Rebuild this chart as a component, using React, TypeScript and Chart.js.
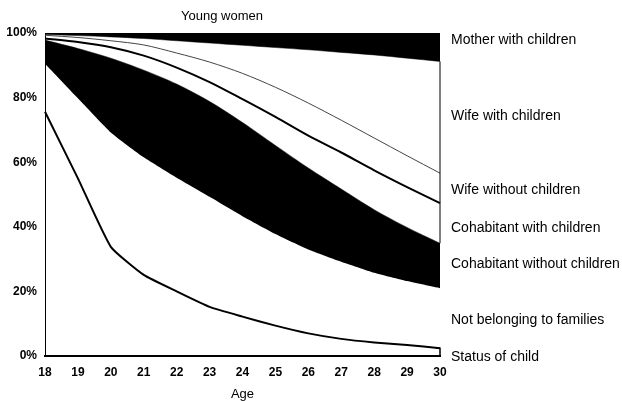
import React, { useEffect, useRef } from "react";
import { Chart, registerables } from "chart.js";

Chart.register(...registerables);

// Age categories
const ages = ["18", "19", "20", "21", "22", "23", "24", "25", "26", "27", "28", "29", "30"];

// Shares (%) of young women by family status, stacked from the bottom
const statusOfChild = [75.6, 55, 33.8, 25.1, 20, 15.2, 12.2, 9.4, 7, 5.3, 4.2, 3.4, 2.4];
const notBelonging = [14.9, 24.8, 35.4, 36.4, 35.2, 34.1, 31.1, 28.4, 26, 23.9, 21.6, 19.8, 18.6];
const cohabitantWithout = [7.3, 15.4, 23, 27, 29, 29.5, 29, 27.4, 25.2, 22.5, 19.5, 16.6, 13.9];
const cohabitantWith = [0.5, 2.0, 3.4, 4.5, 5.1, 6.0, 7.2, 8.8, 10.0, 11.3, 12.2, 12.5, 12.4];
const wifeWithout = [1.0, 1.4, 2.0, 3.3, 4.5, 6.2, 8.0, 9.2, 10.1, 10, 10, 9.7, 9.3];
const wifeWith = [0.2, 0.6, 1.2, 2.0, 3.8, 5.9, 8.7, 12.3, 16.5, 21, 25.7, 30.2, 34.6];
const motherWith = [0.5, 0.8, 1.2, 1.7, 2.4, 3.1, 3.8, 4.5, 5.2, 6, 6.8, 7.8, 8.8];

// Series names (bottom to top)
const seriesNames = [
  "Status of child",
  "Not belonging to families",
  "Cohabitant without children",
  "Cohabitant with children",
  "Wife without children",
  "Wife with children",
  "Mother with children",
];

// Y tick values
const yTickValues = [0, 20, 40, 60, 80, 100];

const chartTitle = "Young women";
const xTitle = "Age";

// Vertical anchor (in % units) for each right-hand label
const labelAnchors = [-0.2, 11.2, 28.3, 39.6, 51.2, 74.2, 97.7];

const TICK_FONT = '"Liberation Sans", Arial, "DejaVu Sans", sans-serif';
const TEXT_FONT = '"Liberation Sans", Arial, "DejaVu Sans", sans-serif';

export default function App() {
  const canvasRef = useRef<HTMLCanvasElement | null>(null);

  useEffect(() => {
    const canvas = canvasRef.current;
    if (!canvas) return;

    const series = [statusOfChild, notBelonging, cohabitantWithout, cohabitantWith, wifeWithout, wifeWith, motherWith];

    const styles = [
      { borderColor: "#000", borderWidth: 2, fill: false, backgroundColor: "#fff", tension: 0.15 },
      { borderColor: "rgba(0,0,0,0)", borderWidth: 0, fill: false, backgroundColor: "#fff", tension: 0.15 },
      { borderColor: "#000", borderWidth: 0.5, fill: "-1", backgroundColor: "#000", tension: 0.3 },
      { borderColor: "#000", borderWidth: 2, fill: false, backgroundColor: "#fff", tension: 0.3 },
      { borderColor: "#444", borderWidth: 1, fill: false, backgroundColor: "#fff", tension: 0.3 },
      { borderColor: "#000", borderWidth: 0.5, fill: false, backgroundColor: "#fff", tension: 0.3 },
      { borderColor: "#000", borderWidth: 0.5, fill: "-1", backgroundColor: "#000", tension: 0.3 },
    ];

    const datasets = series.map((d, i) => ({
      label: seriesNames[i],
      data: d,
      pointRadius: 0,
      ...styles[i],
    }));

    const labelsPlugin = {
      id: "customLabels",
      afterDraw(chart: any) {
        const ctx = chart.ctx;
        const area = chart.chartArea;
        const ys = chart.scales.y;
        const xs = chart.scales.x;
        ctx.save();

        // vertical closing line at the last age
        const xl = xs.getPixelForValue(ages.length - 1);
        const n = ages.length - 1;
        let cum = 0;
        const tops: number[] = [];
        series.forEach((s) => {
          cum += s[n];
          tops.push(cum);
        });
        ctx.strokeStyle = "#000";
        ctx.lineWidth = 1;
        ctx.beginPath();
        ctx.moveTo(xl, ys.getPixelForValue(tops[5]));
        ctx.lineTo(xl, ys.getPixelForValue(tops[2]));
        ctx.stroke();
        ctx.lineWidth = 1.5;
        ctx.beginPath();
        ctx.moveTo(xl - 4, ys.getPixelForValue(tops[0]));
        ctx.lineTo(xl, ys.getPixelForValue(tops[0]));
        ctx.lineTo(xl, ys.getPixelForValue(0));
        ctx.stroke();

        ctx.fillStyle = "#000";
        ctx.textBaseline = "middle";
        ctx.textAlign = "left";
        ctx.font = `14px ${TEXT_FONT}`;
        seriesNames.forEach((name, i) => {
          ctx.fillText(name, area.right + 11, ys.getPixelForValue(labelAnchors[i]));
        });

        ctx.font = `13px ${TEXT_FONT}`;
        ctx.textAlign = "center";
        ctx.fillText(chartTitle, 222, 16);
        ctx.fillText(xTitle, (area.left + area.right) / 2, 394);
        ctx.restore();
      },
    };

    const chart = new Chart(canvas, {
      type: "line",
      data: { labels: ages, datasets: datasets as any },
      options: {
        responsive: false,
        animation: false,
        layout: { padding: { left: 0, top: 33, right: 182, bottom: 0 } },
        plugins: {
          legend: { display: false },
          tooltip: { enabled: false },
          title: { display: false },
        },
        scales: {
          x: {
            type: "category",
            offset: false,
            grid: { display: false, drawTicks: false },
            border: { display: true, color: "#000", width: 2 },
            ticks: {
              color: "#000",
              padding: 9,
              maxRotation: 0,
              autoSkip: false,
              font: { family: TICK_FONT, size: 12, weight: "bold" },
            },
            afterFit: (scale: any) => {
              scale.height = 45;
            },
          },
          y: {
            stacked: true,
            min: 0,
            max: 100,
            grid: { display: false, drawTicks: false },
            border: { display: true, color: "#000", width: 1 },
            afterBuildTicks: (scale: any) => {
              scale.ticks = yTickValues.map((v) => ({ value: v }));
            },
            ticks: {
              color: "#000",
              padding: 8,
              font: { family: TICK_FONT, size: 12, weight: "bold" },
              callback: (v: any) => `${v}%`,
            },
            afterFit: (scale: any) => {
              scale.width = 45;
            },
          },
        },
      } as any,
      plugins: [labelsPlugin],
    });

    return () => chart.destroy();
  }, []);

  return (
    <div style={{ position: "absolute", left: 0, top: 0, width: 622, height: 401, background: "#fff" }}>
      <canvas ref={canvasRef} width={622} height={401} style={{ display: "block" }} />
    </div>
  );
}
